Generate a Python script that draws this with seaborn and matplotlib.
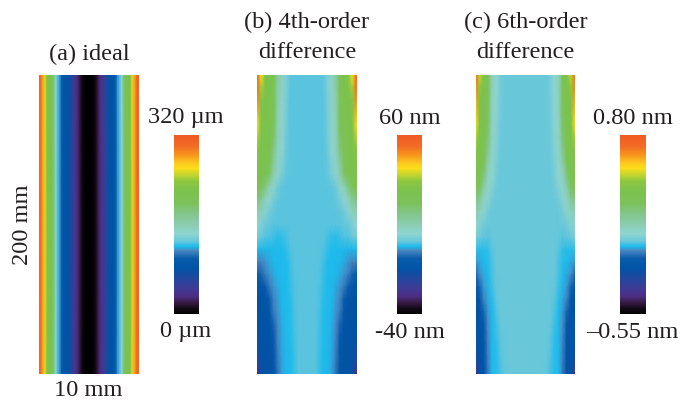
import numpy as np
import matplotlib
matplotlib.use('Agg')
import matplotlib.pyplot as plt
from matplotlib.colors import LinearSegmentedColormap
import seaborn as sns

W, H = 697, 401

# colour scale (position, colour)
scale_pos = [0.0, 0.03, 0.06, 0.10, 0.14, 0.20, 0.256, 0.31, 0.355, 0.377, 0.40, 0.41, 0.45, 0.50, 0.56, 0.62, 0.69, 0.74, 0.78, 0.815, 0.85, 0.89, 0.94, 1.0]
scale_col = ['#000000', '#120a14', '#35193f', '#4c2f85', '#3f3a94', '#22479f', '#0054a6', '#0a5cab', '#4a88c4', '#1cbbec',
             '#5cc4df', '#6dc9d8', '#8ed4d0', '#8ccdb0', '#82c58c', '#7cc25a', '#7bc24e', '#8cc63f', '#c4d52e', '#fbde1a',
             '#fcc21f', '#f7941e', '#f26a24', '#f15a24']

# (a) height across the slit, edge to centre, um
ideal_half = [310, 298, 278, 253, 224, 221, 211, 192, 147, 126, 115, 99, 86, 83, 80, 70, 58, 45, 35, 27, 16, 8, 3, 1, 0]

# (b) difference, nm, rows top to bottom, columns edge to centre
fourth_half = [
    [57, 41, 30, 29, 27, 12, 7, 3, 0.3, 0, 0, 0, 0],
    [54, 36, 30, 29, 26, 11, 7, 3, 0.2, 0, 0, 0, 0],
    [50, 31, 29, 29, 25, 10, 6.5, 2.5, 0, 0, 0, 0, 0],
    [46, 30, 29, 28, 24, 9.5, 6, 2.2, 0, 0, 0, 0, 0],
    [42, 30, 29, 28, 22, 9, 6, 2, 0, 0, 0, 0, 0],
    [37, 29, 29, 27, 20, 8.5, 5.5, 1.6, 0, 0, 0, 0, 0],
    [33, 29, 29, 27, 17, 8, 5, 1.2, 0, 0, 0, 0, 0],
    [30, 29, 28, 24, 13, 7, 3.5, 0.8, 0, 0, 0, 0, 0],
    [29, 29, 27, 20, 10, 6, 2.5, 0.5, 0, 0, 0, 0, 0],
    [26, 24, 17, 9, 6, 1.5, 0.3, 0, 0, 0, 0, 0, 0],
    [18, 14, 8, 5, 2, 0.5, 0, 0, 0, 0, 0, 0, 0],
    [10, 8, 4, 1.5, 0.5, 0, 0, 0, 0, 0, 0, 0, 0],
    [5, 3, 1, 0.5, 0, 0, 0, 0, 0, 0, 0, 0, 0],
    [2, 1, -0.3, -0.5, -1, -1.8, -1.5, -0.8, 0, 0, 0, 0, 0],
    [-2.2, -2.4, -2.4, -2.4, -2.3, -2.3, -2.2, -1.5, -0.5, 0, 0, 0, 0],
    [-5, -5, -4, -3, -2.5, -2.4, -2.3, -2.2, -1, 0, 0, 0, 0],
    [-10, -8, -5.5, -4, -3, -2.5, -2.3, -2.2, -1.2, -0.2, 0, 0, 0],
    [-14, -13, -9, -6, -4, -3, -2.4, -2.3, -1.5, -0.4, 0, 0, 0],
    [-15, -15, -14, -9, -5, -3.5, -2.5, -2.3, -1.8, -0.5, 0, 0, 0],
    [-15, -15, -15, -12, -6, -4, -2.6, -2.3, -2, -0.7, 0, 0, 0],
    [-15, -15, -15, -14, -8, -4.5, -2.8, -2.3, -2, -0.9, 0, 0, 0],
    [-16, -15, -15, -14.5, -10, -5, -3, -2.3, -2.1, -1, 0, 0, 0],
    [-17, -15, -15, -15, -12, -5.5, -3, -2.4, -2.2, -1.1, 0, 0, 0],
    [-21, -15.5, -15, -15, -13, -6, -3.2, -2.4, -2.2, -1.2, -0.1, 0, 0],
    [-30, -16, -15, -15, -14, -6.5, -3.4, -2.5, -2.3, -1.3, -0.1, 0, 0],
]

# (c) difference, nm
sixth_half = [
    [0.72, 0.50, 0.38, 0.33, 0.10, 0.06, 0.02, 0, 0, 0, 0, 0, 0],
    [0.68, 0.45, 0.38, 0.31, 0.095, 0.058, 0.018, 0, 0, 0, 0, 0, 0],
    [0.63, 0.40, 0.38, 0.30, 0.09, 0.055, 0.015, 0, 0, 0, 0, 0, 0],
    [0.59, 0.39, 0.38, 0.28, 0.085, 0.052, 0.012, 0, 0, 0, 0, 0, 0],
    [0.55, 0.38, 0.38, 0.27, 0.08, 0.05, 0.01, 0, 0, 0, 0, 0, 0],
    [0.48, 0.38, 0.38, 0.24, 0.075, 0.045, 0.007, 0, 0, 0, 0, 0, 0],
    [0.42, 0.38, 0.37, 0.20, 0.07, 0.04, 0.005, 0, 0, 0, 0, 0, 0],
    [0.40, 0.37, 0.31, 0.14, 0.065, 0.03, 0, 0, 0, 0, 0, 0, 0],
    [0.38, 0.36, 0.24, 0.09, 0.06, 0.02, 0, 0, 0, 0, 0, 0, 0],
    [0.32, 0.28, 0.15, 0.07, 0.04, 0.008, 0, 0, 0, 0, 0, 0, 0],
    [0.22, 0.17, 0.08, 0.05, 0.015, 0, 0, 0, 0, 0, 0, 0, 0],
    [0.13, 0.09, 0.05, 0.02, 0, 0, 0, 0, 0, 0, 0, 0, 0],
    [0.07, 0.04, 0.015, 0, 0, 0, 0, 0, 0, 0, 0, 0, 0],
    [0.03, 0.01, -0.005, -0.01, 0, 0, 0, 0, 0, 0, 0, 0, 0],
    [-0.03, -0.035, -0.035, -0.03, -0.01, 0, 0, 0, 0, 0, 0, 0, 0],
    [-0.06, -0.05, -0.04, -0.035, -0.015, 0, 0, 0, 0, 0, 0, 0, 0],
    [-0.12, -0.07, -0.05, -0.04, -0.02, 0, 0, 0, 0, 0, 0, 0, 0],
    [-0.19, -0.12, -0.06, -0.045, -0.025, -0.003, 0, 0, 0, 0, 0, 0, 0],
    [-0.20, -0.18, -0.08, -0.05, -0.035, -0.008, 0, 0, 0, 0, 0, 0, 0],
    [-0.205, -0.20, -0.12, -0.06, -0.04, -0.015, 0, 0, 0, 0, 0, 0, 0],
    [-0.21, -0.20, -0.16, -0.07, -0.04, -0.025, -0.003, 0, 0, 0, 0, 0, 0],
    [-0.21, -0.20, -0.18, -0.075, -0.04, -0.03, -0.008, 0, 0, 0, 0, 0, 0],
    [-0.22, -0.20, -0.19, -0.08, -0.04, -0.035, -0.012, 0, 0, 0, 0, 0, 0],
    [-0.29, -0.205, -0.20, -0.085, -0.04, -0.035, -0.015, 0, 0, 0, 0, 0, 0],
    [-0.40, -0.21, -0.20, -0.09, -0.04, -0.035, -0.018, -0.002, 0, 0, 0, 0, 0],
]

panel_limits = [(0, 320), (-40, 60), (-0.55, 0.80)]
top_labels = ['320 µm', '60 nm', '0.80 nm']
bottom_labels = ['0 µm', '-40 nm', '–0.55 nm']
titles = [['(a) ideal'], ['(b) 4th-order', 'difference'], ['(c) 6th-order', 'difference']]

sns.set_style('white')
plt.rcParams['font.family'] = ['Liberation Serif', 'DejaVu Serif']
plt.rcParams['font.size'] = 17.6

cmap = LinearSegmentedColormap.from_list('rainbow_scale', list(zip(scale_pos, scale_col)), N=512)


def mirror(half):
    half = np.array(half, dtype=float)
    return np.hstack([half, half[:, -2::-1]])


def px_axes(fig, x0, y0, x1, y1):
    return fig.add_axes([x0 / W, 1 - y1 / H, (x1 - x0) / W, (y1 - y0) / H])


def label(fig, x, y, s, **kw):
    fig.text(x / W, 1 - y / H, s, ha='center', va='center', color='#231f20', **kw)


fig = plt.figure(figsize=(W / 100, H / 100), dpi=100)

tables = [mirror([ideal_half, ideal_half]), mirror(fourth_half), mirror(sixth_half)]
map_x = [(39, 138.5), (257, 356.5), (475.5, 575)]
bar_x = [(173.5, 199), (396.5, 422), (620, 645.5)]
label_x = [186, 409.5, 632.5]
title_x = [89, 307, 525.5]

for i in range(3):
    ax = px_axes(fig, map_x[i][0], 75, map_x[i][1], 374)
    cax = px_axes(fig, bar_x[i][0], 135, bar_x[i][1], 314)
    vmin, vmax = panel_limits[i]
    sns.heatmap(tables[i], ax=ax, cbar_ax=cax, cmap=cmap, vmin=vmin, vmax=vmax,
                xticklabels=False, yticklabels=False, shading='gouraud')
    ax.set_xlim(0, tables[i].shape[1] - 1)
    ax.set_ylim(tables[i].shape[0] - 1, 0)
    cbar = ax.collections[0].colorbar
    cbar.set_ticks([])
    cbar.outline.set_visible(False)

    label(fig, label_x[i], 118, top_labels[i])
    label(fig, label_x[i], 332, bottom_labels[i])
    if len(titles[i]) == 1:
        label(fig, title_x[i], 54, titles[i][0])
    else:
        label(fig, title_x[i], 22, titles[i][0])
        label(fig, title_x[i], 52, titles[i][1])

label(fig, 23, 225, '200 mm', rotation=90)
label(fig, 88, 390, '10 mm')

fig.savefig('out.png', dpi=100)
